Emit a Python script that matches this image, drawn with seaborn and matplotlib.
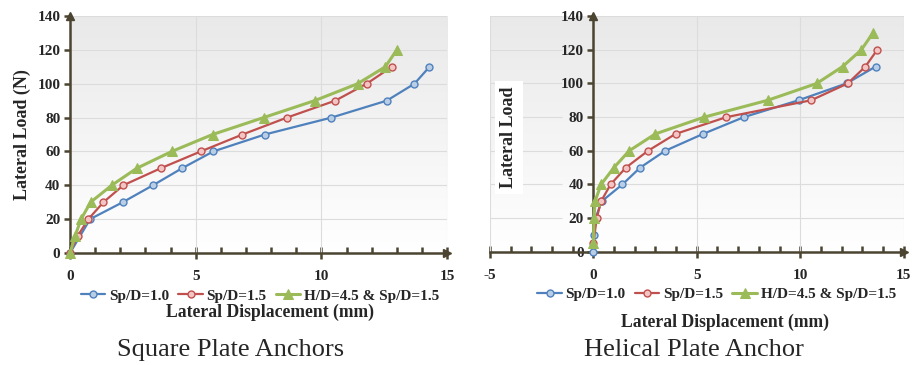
import numpy as np
import matplotlib
matplotlib.use("Agg")
import matplotlib.pyplot as plt
from matplotlib.ticker import MultipleLocator
from matplotlib.colors import LinearSegmentedColormap
import seaborn as sns

sns.set_style("white")
plt.rcParams['font.family'] = ['Liberation Serif', 'DejaVu Serif']
plt.rcParams['axes.unicode_minus'] = False

# --- Square plate anchors (left) ---
sq_load_10 = [0, 20, 30, 40, 50, 60, 70, 80, 90, 100, 110]
sq_disp_10 = [0, 0.8, 2.1, 3.3, 4.45, 5.7, 7.75, 10.4, 12.6, 13.7, 14.3]
sq_load_15 = [0, 10, 20, 30, 40, 50, 60, 70, 80, 90, 100, 110]
sq_disp_15 = [0, 0.3, 0.73, 1.33, 2.12, 3.6, 5.2, 6.86, 8.63, 10.55, 11.8, 12.8]
sq_load_hd = [0, 10, 20, 30, 40, 50, 60, 70, 80, 90, 100, 110, 120]
sq_disp_hd = [0, 0.2, 0.44, 0.82, 1.66, 2.65, 4.05, 5.67, 7.7, 9.73, 11.44, 12.54, 13.0]

# --- Helical plate anchor (right) ---
he_load_10 = [0, 10, 20, 30, 40, 50, 60, 70, 80, 90, 100, 110]
he_disp_10 = [0, 0.05, 0.1, 0.4, 1.4, 2.26, 3.47, 5.3, 7.28, 9.92, 12.24, 13.65]
he_load_15 = [0, 10, 20, 30, 40, 50, 60, 70, 80, 90, 100, 110, 120]
he_disp_15 = [0, 0.0, 0.16, 0.37, 0.83, 1.57, 2.64, 3.97, 6.43, 10.53, 12.3, 13.15, 13.73]
he_load_hd = [0, 10, 20, 30, 40, 50, 60, 70, 80, 90, 100, 110, 120, 130]
he_disp_hd = [0, 0.0, 0.03, 0.08, 0.37, 0.99, 1.73, 2.99, 5.36, 8.43, 10.8, 12.05, 12.96, 13.52]

labels = ["Sp/D=1.0", "Sp/D=1.5", "H/D=4.5 & Sp/D=1.5"]
captions = ["Square Plate Anchors", "Helical Plate Anchor"]

axis_col = "#4a4430"
styles = [
    dict(color="#4f81bd", marker="o", markersize=5, markerfacecolor="#b9cde5",
         markeredgecolor="#4f81bd", markeredgewidth=1.0, linewidth=1.6),
    dict(color="#c0504d", marker="o", markersize=5, markerfacecolor="#f2c4c4",
         markeredgecolor="#c0504d", markeredgewidth=1.0, linewidth=1.6),
    dict(color="#9bbb59", marker="^", markersize=7, markerfacecolor="#9bbb59",
         markeredgecolor="#9bbb59", linewidth=2.2),
]

fig = plt.figure(figsize=(9.13, 3.65), dpi=100)
ax1 = fig.add_axes([0.0767, 0.307, 0.413, 0.649])
ax2 = fig.add_axes([0.5367, 0.310, 0.453, 0.646])

grad = np.linspace(0, 1, 256).reshape(-1, 1)
bg_cmap = LinearSegmentedColormap.from_list("bg", ["#ffffff", "#e9e9e9"])


def style_axes(ax, xlim, series):
    ax.set_xlim(*xlim)
    ax.imshow(grad, extent=[xlim[0], xlim[1], 140, 0], aspect="auto",
              cmap=bg_cmap, zorder=0)
    ax.set_ylim(0, 140)
    # horizontal grid, broken where the y tick labels sit (x < 0 side)
    for y in range(20, 141, 20):
        ax.hlines(y, 0, xlim[1], color="#dcdcdc", lw=0.8, zorder=1)
        if xlim[0] < 0:
            ax.hlines(y, xlim[0], -1.5, color="#dcdcdc", lw=0.8, zorder=1)
    for x in range(xlim[0], xlim[1] + 1, 5):
        if x != 0:
            ax.axvline(x, color="#dcdcdc", lw=0.8, zorder=1)

    for (xs, ys), lab, st in zip(series, labels, styles):
        sns.lineplot(x=xs, y=ys, ax=ax, sort=False, label=lab, zorder=3,
                     clip_on=False, **st)

    for s in ["top", "right"]:
        ax.spines[s].set_visible(False)
    ax.spines["left"].set_position(("data", 0))
    ax.spines["bottom"].set_position(("data", 0))
    for s in ["left", "bottom"]:
        ax.spines[s].set_color(axis_col)
        ax.spines[s].set_linewidth(1.8)
        ax.spines[s].set_zorder(2)

    ax.xaxis.set_major_locator(MultipleLocator(5))
    ax.xaxis.set_minor_locator(MultipleLocator(1))
    ax.yaxis.set_major_locator(MultipleLocator(20))
    ax.tick_params(axis="x", which="major", direction="inout", length=8,
                   width=1.8, color=axis_col, labelsize=11, pad=8)
    ax.tick_params(axis="x", which="minor", direction="in", length=4,
                   width=1.8, color=axis_col)
    ax.tick_params(axis="y", which="major", direction="out", length=4,
                   width=1.8, color=axis_col, labelsize=11, pad=3)
    ax.tick_params(left=True, bottom=True, which="both")
    for t in ax.get_xticklabels() + ax.get_yticklabels():
        t.set_fontweight("bold")

    # arrow heads at the axis ends
    ax.plot(0, 1, marker="^", color=axis_col, markersize=6,
            transform=ax.get_xaxis_transform(), clip_on=False, zorder=4)
    ax.plot(1, 0, marker=">", color=axis_col, markersize=6,
            transform=ax.get_yaxis_transform(), clip_on=False, zorder=4)

    ax.legend(loc="upper right", bbox_to_anchor=(1.0, -0.12), ncol=3,
              frameon=False, handlelength=1.6, handletextpad=0.25,
              columnspacing=0.6, borderpad=0,
              prop=dict(family="Liberation Serif", weight="bold", size=11))
    ax.set_xlabel("")
    ax.set_ylabel("")


style_axes(ax1, (0, 15), [(sq_disp_10, sq_load_10), (sq_disp_15, sq_load_15),
                          (sq_disp_hd, sq_load_hd)])
style_axes(ax2, (-5, 15), [(he_disp_10, he_load_10), (he_disp_15, he_load_15),
                           (he_disp_hd, he_load_hd)])

# axis titles
fig.text(0.296, 0.145, "Lateral Displacement (mm)", ha="center", va="center",
         fontsize=12.7, fontweight="bold")
fig.text(0.794, 0.118, "Lateral Displacement (mm)", ha="center", va="center",
         fontsize=12.7, fontweight="bold")
fig.text(0.024, 0.63, "Lateral Load (N)", rotation=90, ha="center", va="center",
         fontsize=13, fontweight="bold")
ax2.text(-4.1, 68, "Lateral Load", rotation=90, ha="center", va="center",
         fontsize=13, fontweight="bold", zorder=5,
         bbox=dict(facecolor="white", edgecolor="none", pad=4))

# captions
fig.text(0.253, 0.041, captions[0], ha="center", va="center", fontsize=19)
fig.text(0.760, 0.041, captions[1], ha="center", va="center", fontsize=19)

fig.savefig("out.png", dpi=100)
